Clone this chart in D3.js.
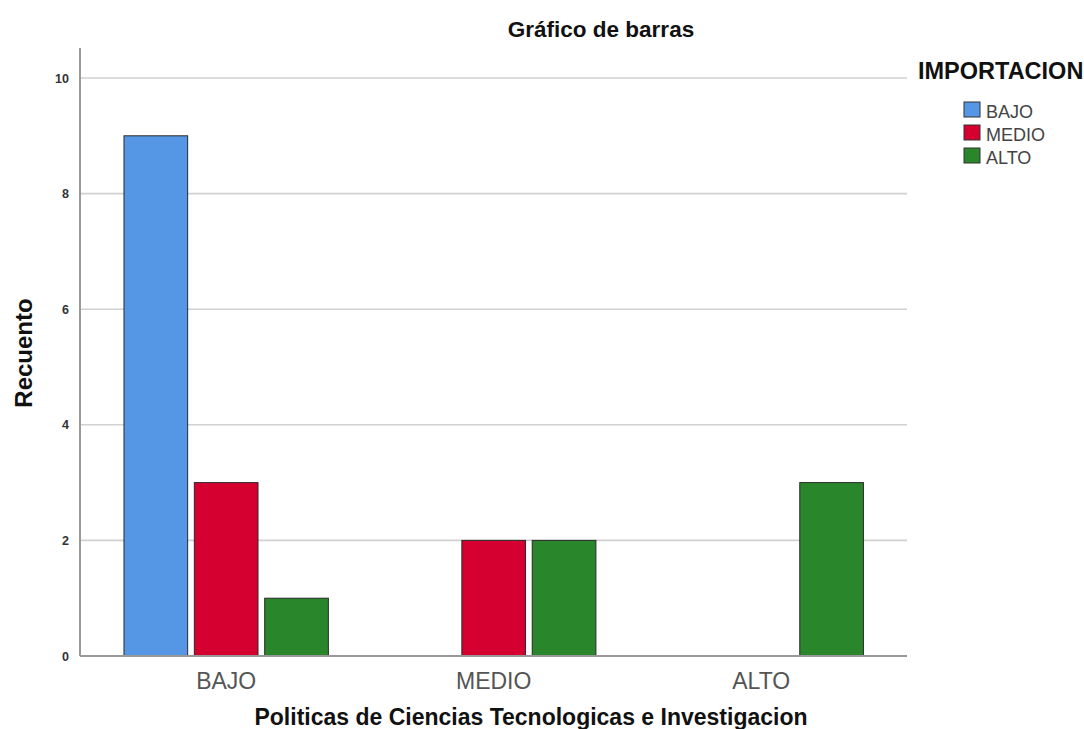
<!DOCTYPE html>
<html><head><meta charset="utf-8">
<script src="https://cdn.jsdelivr.net/npm/d3@7"></script>
<style>body{margin:0;background:#fff;} svg{display:block;font-family:Arial,"Liberation Sans",sans-serif;}</style>
</head><body>
<svg id="c" width="1084" height="729"></svg>
<script>
const categories = ["BAJO","MEDIO","ALTO"];
const seriesNames = ["BAJO","MEDIO","ALTO"];
const valBAJO = [9, 0, 0];
const valMEDIO = [3, 2, 0];
const valALTO = [1, 2, 3];
const yTicks = [0,2,4,6,8,10];
const colors = ["#5596e5","#d60030","#2a862a"];

const seriesVals = [valBAJO, valMEDIO, valALTO];
const svg = d3.select("#c");
const x0 = d3.scaleBand().domain(categories).range([92.4, 895]).paddingInner(0.236).paddingOuter(0.118);
const x1 = d3.scaleBand().domain(seriesNames).range([0, x0.bandwidth()]).paddingInner(0.095);
const y = d3.scaleLinear().domain([0,10]).range([656,78]);

// gridlines
svg.append("g").selectAll("line").data(yTicks.filter(d=>d>0)).join("line")
  .attr("x1",80).attr("x2",907).attr("y1",d=>y(d)).attr("y2",d=>y(d))
  .attr("stroke","#d0d0d0").attr("stroke-width",1.6);

// bars
const data = [];
categories.forEach((c,i)=>seriesNames.forEach((s,j)=>{ if(seriesVals[j][i]>0) data.push({c,s,v:seriesVals[j][i],j}); }));
svg.append("g").selectAll("rect").data(data).join("rect")
  .attr("x",d=>x0(d.c)+x1(d.s)).attr("width",x1.bandwidth())
  .attr("y",d=>y(d.v)).attr("height",d=>y(0)-y(d.v))
  .attr("fill",d=>colors[d.j]).attr("stroke","#2a2a2a").attr("stroke-width",1);

// axes
const yAxis = d3.axisLeft(y).tickValues(yTicks).tickSize(0).tickPadding(11);
const gy = svg.append("g").attr("transform","translate(80,0)").call(yAxis);
gy.select(".domain").remove();
gy.selectAll("text").attr("font-size",12.5).attr("fill","#333").attr("font-weight","bold");
svg.append("line").attr("x1",80).attr("x2",80).attr("y1",48).attr("y2",656).attr("stroke","#999").attr("stroke-width",2);

const xAxis = d3.axisBottom(x0).tickSize(0).tickPadding(17);
const gx = svg.append("g").attr("transform","translate(0,656)").call(xAxis);
gx.select(".domain").remove();
gx.selectAll("text").attr("font-size",23).attr("fill","#555");
svg.append("line").attr("x1",80).attr("x2",907).attr("y1",656).attr("y2",656).attr("stroke","#999").attr("stroke-width",2);

// titles
svg.append("text").attr("x",601).attr("y",37).attr("text-anchor","middle").attr("font-size",22.5).attr("font-weight","bold").attr("fill","#111").text("Gráfico de barras");
svg.append("text").attr("transform","translate(32,353) rotate(-90)").attr("text-anchor","middle").attr("font-size",24).attr("font-weight","bold").attr("fill","#111").text("Recuento");
svg.append("text").attr("x",531).attr("y",725).attr("text-anchor","middle").attr("font-size",23).attr("font-weight","bold").attr("fill","#111").text("Politicas de Ciencias Tecnologicas e Investigacion");

// legend
svg.append("text").attr("x",918).attr("y",79).attr("font-size",23.5).attr("font-weight","bold").attr("fill","#111").text("IMPORTACION");
const lg = svg.append("g").selectAll("g").data(seriesNames).join("g").attr("transform",(d,i)=>`translate(964,${102+i*23})`);
lg.append("rect").attr("width",16).attr("height",15).attr("fill",(d,i)=>colors[i]).attr("stroke","#333").attr("stroke-width",1);
lg.append("text").attr("x",22).attr("y",16).attr("font-size",18).attr("fill","#444").text(d=>d);
</script>
</body></html>
